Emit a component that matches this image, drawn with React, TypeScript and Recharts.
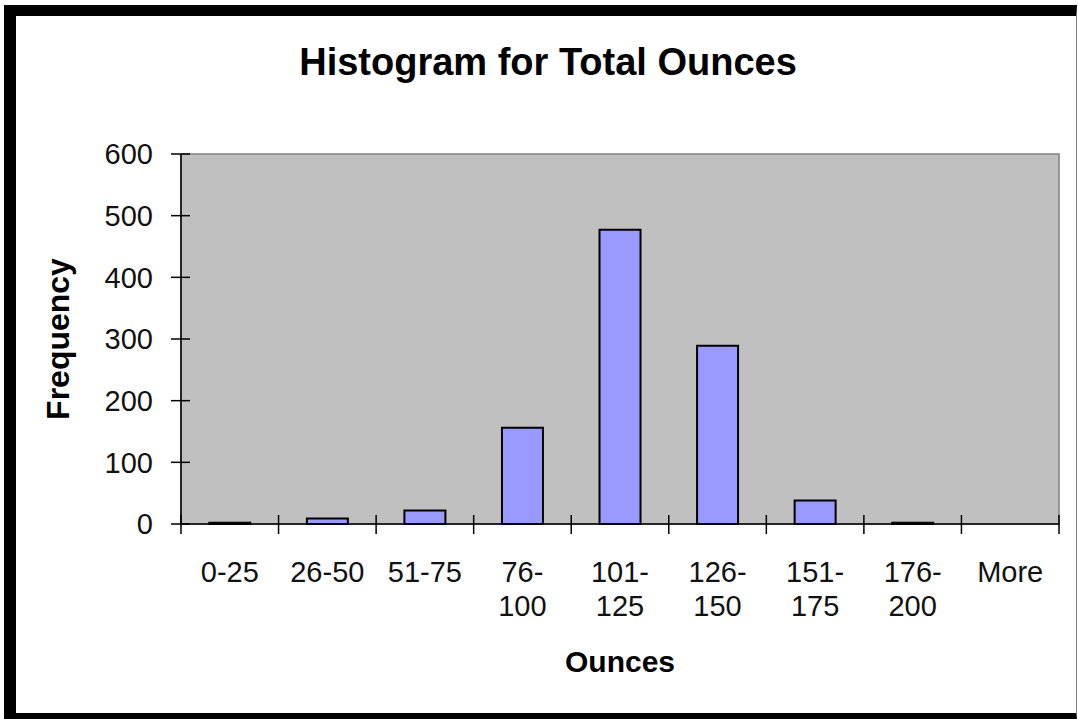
import React from 'react';
import { BarChart, Bar, XAxis, YAxis, CartesianGrid, ReferenceArea, Label } from 'recharts';

const bins = ['0-25', '26-50', '51-75', '76-100', '101-125', '126-150', '151-175', '176-200', 'More'];
const frequencies = [2, 9, 22, 156, 477, 289, 38, 2, 0];
const yTicks = [0, 100, 200, 300, 400, 500, 600];

const data = bins.map((bin, i) => ({ bin, frequency: frequencies[i] }));

const FONT = '"Liberation Sans", Arial, sans-serif';
const CHART_W = 1078;
const CHART_H = 719;
const MARGIN = { top: 154, right: 19, bottom: 195, left: 0 };
const Y_AXIS_W = 181;
const PLOT_W = CHART_W - MARGIN.left - MARGIN.right - Y_AXIS_W;
const BAND = PLOT_W / bins.length;
const Y_TICK_SIZE = 10;
const Y_TICK_MARGIN = 18;
const TICK_FONT = 29;

const YTick = (props: any) => {
  const { x, y, payload } = props;
  const axisX = x + Y_TICK_SIZE + Y_TICK_MARGIN;
  return (
    <g>
      <line x1={axisX - 10} x2={axisX + 9} y1={y} y2={y} stroke="#000" strokeWidth={1.5} />
      <text x={x} y={y} dy="0.36em" textAnchor="end" fontSize={TICK_FONT} fill="#111" fontFamily={FONT}>
        {payload.value}
      </text>
    </g>
  );
};

const splitLabel = (s: string): string[] => {
  const i = s.indexOf('-');
  if (i >= 0 && s.length > 5) return [s.slice(0, i + 1), s.slice(i + 1)];
  return [s];
};

const CatTick = (props: any) => {
  const { x, y, payload, index } = props;
  const lines = splitLabel(String(payload.value));
  const left = x - BAND / 2;
  const right = x + BAND / 2;
  return (
    <g>
      <line x1={left} x2={left} y1={y - 9} y2={y + 10} stroke="#000" strokeWidth={1.5} />
      {index === bins.length - 1 && (
        <line x1={right} x2={right} y1={y - 9} y2={y + 10} stroke="#000" strokeWidth={1.5} />
      )}
      <text x={x} y={y} textAnchor="middle" fontSize={TICK_FONT} fill="#111" fontFamily={FONT}>
        {lines.map((l, i) => (
          <tspan key={i} x={x} dy={i === 0 ? 58 : 34}>
            {l}
          </tspan>
        ))}
      </text>
    </g>
  );
};

export default function App() {
  return (
    <div style={{ position: 'absolute', left: 0, top: 0, width: 1078, height: 719, background: '#fff', overflow: 'hidden' }}>
      <div
        style={{
          position: 'absolute',
          left: 4,
          top: 5,
          width: 1073,
          height: 714,
          boxSizing: 'border-box',
          borderLeft: '12px solid #000',
          borderTop: '11px solid #000',
          borderBottom: '6px solid #000',
          borderRight: '1px solid #808080',
        }}
      />
      <div
        style={{
          position: 'absolute',
          left: 548,
          top: 43,
          transform: 'translateX(-50%)',
          whiteSpace: 'nowrap',
          fontFamily: FONT,
          fontWeight: 'bold',
          fontSize: 38,
          lineHeight: '38px',
          color: '#000',
        }}
      >
        Histogram for Total Ounces
      </div>
      <div style={{ position: 'absolute', left: 0, top: 0 }}>
        <BarChart
          width={CHART_W}
          height={CHART_H}
          data={data}
          margin={{ top: MARGIN.top, right: MARGIN.right, bottom: MARGIN.bottom - 1, left: MARGIN.left }}
          barCategoryGap="29%"
        >
          <CartesianGrid fill="#C0C0C0" horizontal={false} vertical={false} />
          <ReferenceArea x1={bins[0]} x2={bins[bins.length - 1]} y1={0} y2={600} fill="none" stroke="#808080" strokeWidth={1.5} />
          <XAxis
            dataKey="bin"
            type="category"
            height={1}
            tickSize={0}
            tickMargin={0}
            tickLine={false}
            axisLine={{ stroke: '#000', strokeWidth: 1.5 }}
            interval={0}
            tick={<CatTick />}
          >
            <Label value="Ounces" position="bottom" offset={126} fontSize={30} fontWeight="bold" fill="#000" fontFamily={FONT} />
          </XAxis>
          <YAxis
            domain={[0, 600]}
            ticks={yTicks}
            width={Y_AXIS_W}
            tickSize={Y_TICK_SIZE}
            tickMargin={Y_TICK_MARGIN}
            tickLine={false}
            tick={<YTick />}
            axisLine={{ stroke: '#000', strokeWidth: 1.5 }}
            interval={0}
          >
            <Label
              value="Frequency"
              angle={-90}
              position="insideLeft"
              offset={58}
              fontSize={32}
              fontWeight="bold"
              fill="#000"
              fontFamily={FONT}
              style={{ textAnchor: 'middle' }}
            />
          </YAxis>
          <Bar
            dataKey="frequency"
            fill="#9999FF"
            stroke="#000"
            strokeWidth={2}
            isAnimationActive={false}
          />
        </BarChart>
      </div>
    </div>
  );
}
